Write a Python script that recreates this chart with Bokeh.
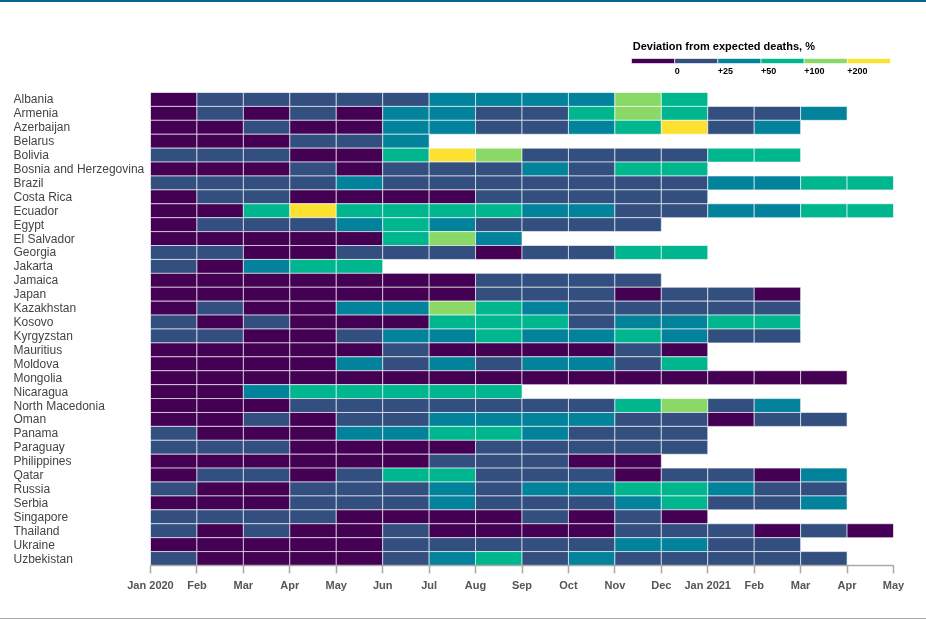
from bokeh.core.properties import value
from bokeh.embed import file_html
from bokeh.models import ColumnDataSource, Div, FixedTicker, FactorRange, Range1d
from bokeh.plotting import figure
from bokeh.resources import INLINE

countries = ["Albania", "Armenia", "Azerbaijan", "Belarus", "Bolivia", "Bosnia and Herzegovina",
             "Brazil", "Costa Rica", "Ecuador", "Egypt", "El Salvador", "Georgia", "Jakarta",
             "Jamaica", "Japan", "Kazakhstan", "Kosovo", "Kyrgyzstan", "Mauritius", "Moldova",
             "Mongolia", "Nicaragua", "North Macedonia", "Oman", "Panama", "Paraguay",
             "Philippines", "Qatar", "Russia", "Serbia", "Singapore", "Thailand", "Ukraine",
             "Uzbekistan"]
month_labels = ["Jan 2020", "Feb", "Mar", "Apr", "May", "Jun", "Jul", "Aug", "Sep", "Oct", "Nov",
                "Dec", "Jan 2021", "Feb", "Mar", "Apr", "May"]

# Deviation bin per month from Jan 2020: 0 = below 0, 1 = 0..+25, 2 = +25..+50,
# 3 = +50..+100, 4 = +100..+200, 5 = above +200
albania = [0, 1, 1, 1, 1, 1, 2, 2, 2, 2, 4, 3]
armenia = [0, 1, 0, 1, 0, 2, 2, 1, 1, 3, 4, 3, 1, 1, 2]
azerbaijan = [0, 0, 1, 0, 0, 2, 2, 1, 1, 2, 3, 5, 1, 2]
belarus = [0, 0, 0, 1, 1, 2]
bolivia = [1, 1, 1, 0, 0, 3, 5, 4, 1, 1, 1, 1, 3, 3]
bosnia = [0, 0, 0, 1, 0, 1, 1, 1, 2, 1, 3, 3]
brazil = [1, 1, 1, 1, 2, 1, 1, 1, 1, 1, 1, 1, 2, 2, 3, 3]
costa_rica = [0, 1, 1, 0, 0, 0, 0, 1, 1, 1, 1, 1]
ecuador = [0, 0, 3, 5, 3, 3, 3, 3, 2, 2, 1, 1, 2, 2, 3, 3]
egypt = [0, 1, 1, 1, 2, 3, 2, 1, 1, 1, 1]
el_salvador = [0, 0, 0, 0, 0, 3, 4, 2]
georgia = [1, 1, 0, 0, 1, 1, 1, 0, 1, 1, 3, 3]
jakarta = [1, 0, 2, 3, 3]
jamaica = [0, 0, 0, 0, 0, 0, 0, 1, 1, 1, 1]
japan = [0, 0, 0, 0, 0, 0, 0, 1, 1, 1, 0, 1, 1, 0]
kazakhstan = [0, 1, 0, 0, 2, 2, 4, 3, 2, 1, 1, 1, 1, 1]
kosovo = [1, 0, 1, 0, 0, 0, 3, 3, 3, 1, 2, 2, 3, 3]
kyrgyzstan = [1, 1, 0, 0, 1, 2, 2, 3, 2, 2, 3, 2, 1, 1]
mauritius = [0, 0, 0, 0, 0, 1, 0, 0, 0, 0, 1, 0]
moldova = [0, 0, 0, 0, 2, 1, 2, 1, 2, 2, 1, 3]
mongolia = [0, 0, 0, 0, 0, 0, 0, 0, 0, 0, 0, 0, 0, 0, 0]
nicaragua = [0, 0, 2, 3, 3, 3, 3, 3]
north_macedonia = [0, 0, 0, 1, 1, 1, 1, 1, 1, 1, 3, 4, 1, 2]
oman = [0, 0, 1, 0, 1, 1, 2, 2, 2, 2, 1, 1, 0, 1, 1]
panama = [1, 0, 0, 0, 2, 2, 3, 3, 2, 1, 1, 1]
paraguay = [1, 1, 1, 0, 0, 0, 0, 1, 1, 1, 1, 1]
philippines = [0, 0, 0, 0, 0, 0, 1, 1, 1, 0, 0]
qatar = [0, 1, 1, 0, 1, 3, 3, 1, 1, 1, 0, 1, 1, 0, 2]
russia = [1, 0, 0, 1, 1, 1, 2, 1, 2, 2, 3, 3, 2, 1, 1]
serbia = [0, 0, 0, 1, 1, 1, 2, 1, 1, 1, 2, 3, 1, 1, 2]
singapore = [1, 1, 1, 1, 0, 0, 0, 0, 1, 0, 1, 0]
thailand = [1, 0, 1, 0, 0, 1, 0, 0, 0, 0, 1, 1, 1, 0, 1, 0]
ukraine = [0, 0, 0, 0, 0, 1, 1, 1, 1, 1, 2, 2, 1, 1]
uzbekistan = [1, 0, 0, 0, 0, 1, 2, 3, 1, 2, 1, 1, 1, 1, 1]

series = [albania, armenia, azerbaijan, belarus, bolivia, bosnia, brazil, costa_rica, ecuador,
          egypt, el_salvador, georgia, jakarta, jamaica, japan, kazakhstan, kosovo, kyrgyzstan,
          mauritius, moldova, mongolia, nicaragua, north_macedonia, oman, panama, paraguay,
          philippines, qatar, russia, serbia, singapore, thailand, ukraine, uzbekistan]

bin_colors = ["#440154", "#324f80", "#03829c", "#00b68f", "#8ad866", "#fde130"]
legend_title = "Deviation from expected deaths, %"
legend_ticks = ["0", "+25", "+50", "+100", "+200"]

FONT = "Liberation Sans"

xs, ys, cs = [], [], []
for name, vals in zip(countries, series):
    for i, v in enumerate(vals):
        xs.append(i + 0.5)
        ys.append(name)
        cs.append(bin_colors[v])

shared_y = FactorRange(factors=countries[::-1])


def bare(fig):
    fig.grid.visible = False
    fig.outline_line_color = None
    fig.background_fill_color = None
    fig.border_fill_color = None
    return fig


p = bare(figure(width=926, height=619, output_backend="svg", toolbar_location=None,
                x_range=Range1d(0, 16), y_range=shared_y, y_axis_type=None,
                min_border_left=150, min_border_right=33, min_border_top=92, min_border_bottom=54))
p.rect(x="x", y="y", width=1, height=1, fill_color="c", line_color="#ffffff", line_alpha=0.6,
       line_width=1, source=ColumnDataSource(dict(x=xs, y=ys, c=cs)))

ax = p.xaxis[0]
ax.ticker = FixedTicker(ticks=list(range(17)))
ax.major_label_overrides = {i: t for i, t in enumerate(month_labels)}
ax.axis_line_color = "#aaaaaa"
ax.axis_line_width = 1.5
ax.major_tick_line_color = "#aaaaaa"
ax.major_tick_line_width = 1.5
ax.major_tick_out = 8
ax.major_tick_in = 0
ax.minor_tick_line_color = None
ax.major_label_standoff = 5
ax.major_label_text_font = FONT
ax.major_label_text_font_size = "11px"
ax.major_label_text_font_style = "bold"
ax.major_label_text_color = "#555555"
ax.major_label_orientation = "horizontal"
p.styles = {"position": "fixed", "left": "0", "top": "0"}

# country names, left aligned in their own column and sharing the main plot's y range
names = bare(figure(width=137, height=473, output_backend="svg", toolbar_location=None,
                    x_range=Range1d(0, 137), y_range=shared_y, x_axis_type=None, y_axis_type=None,
                    min_border=0, min_border_left=0, min_border_right=0, min_border_top=0,
                    min_border_bottom=0))
names.text(x=[0] * len(countries), y=countries, text=countries, text_font=value(FONT),
           text_font_size="12px", text_color="#444444", text_align="left", text_baseline="middle")
names.styles = {"position": "fixed", "left": "12.5px", "top": "92px"}

# legend in its own small plot over the empty top right of the page
lg = bare(figure(width=270, height=45, output_backend="svg", toolbar_location=None,
                 x_range=Range1d(-6 / 259 * 6, 6 + 5 / 259 * 6), y_range=Range1d(45, 0),
                 x_axis_type=None, y_axis_type=None,
                 min_border=0, min_border_left=0, min_border_right=0, min_border_top=0,
                 min_border_bottom=0))
lg.quad(left=list(range(6)), right=list(range(1, 7)), top=[23] * 6, bottom=[28] * 6,
        fill_color=bin_colors, line_color="#ffffff", line_alpha=0.6, line_width=1)
lg.text(x=list(range(1, 6)), y=[35.5] * 5, text=legend_ticks, text_font=value(FONT),
        text_font_size="9px", text_color="#000000", text_align="left", text_baseline="middle",
        text_font_style="bold")
lg.text(x=[0.03], y=[10.5], text=[legend_title], text_font=value(FONT), text_font_size="11px",
        text_color="#000000", text_align="left", text_baseline="middle", text_font_style="bold")
lg.styles = {"position": "fixed", "left": "625px", "top": "35px"}

top_rule = Div(text="", width=926, height=2, margin=0,
               styles={"position": "fixed", "left": "0", "top": "0", "background": "#0a6191"})
bottom_rule = Div(text="", width=926, height=1, margin=0,
                  styles={"position": "fixed", "left": "0", "top": "618px", "background": "#aaaaaa"})

open("out.html", "w").write(file_html([p, names, lg, top_rule, bottom_rule], INLINE))
